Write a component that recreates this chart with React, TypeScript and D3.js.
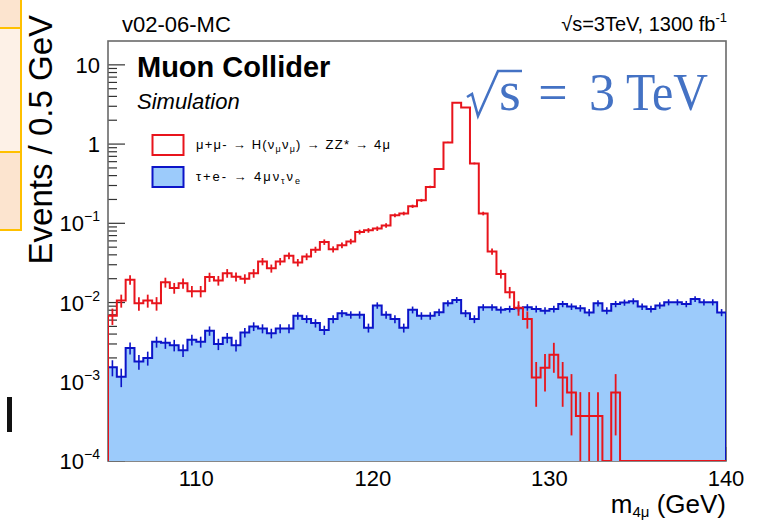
import React from 'react';
import * as d3 from 'd3';

// binning: 70 bins of 0.5 GeV from 105 to 140
const binLow = 105;
const binWidth = 0.5;

// mu+mu- -> H -> ZZ* -> 4mu (red, outline only)
const signalValues = [
  0.0068, 0.0106, 0.0194, 0.0098, 0.0106, 0.0098, 0.018, 0.0153, 0.0175, 0.0139,
  0.0139, 0.021, 0.019, 0.0235, 0.0212, 0.02, 0.0235, 0.033, 0.027, 0.033,
  0.039, 0.032, 0.038, 0.0465, 0.058, 0.047, 0.0527, 0.059, 0.0776, 0.0815,
  0.0857, 0.094, 0.126, 0.133, 0.164, 0.195, 0.288, 0.483, 1.05, 3.33,
  2.9, 0.57, 0.133, 0.044, 0.023, 0.0135, 0.0086, 0.0062, 0.00113, 0.0015,
  0.0022, 0.00113, 0.00073, 0.00037, 0.00037, 0.00037, 0, 0.00073, 0, 0,
  0, 0, 0, 0, 0, 0, 0, 0, 0, 0,
];

// tau+e- -> 4mu nu nu (blue, filled)
const backgroundValues = [
  0.00152, 0.00116, 0.00267, 0.0018, 0.002, 0.0032, 0.0031, 0.0029, 0.0025, 0.0034,
  0.0032, 0.0044, 0.003, 0.0036, 0.0029, 0.0042, 0.005, 0.0047, 0.0041, 0.0047,
  0.0047, 0.0068, 0.0062, 0.0055, 0.0045, 0.0062, 0.0073, 0.007, 0.007, 0.0048,
  0.0092, 0.007, 0.0062, 0.0048, 0.0081, 0.0068, 0.0068, 0.00755, 0.0098, 0.0108,
  0.0073, 0.0062, 0.0087, 0.0087, 0.0081, 0.0083, 0.0085, 0.0087, 0.0083, 0.0079,
  0.0083, 0.0096, 0.0089, 0.0085, 0.0075, 0.0098, 0.0079, 0.0096, 0.01, 0.0104,
  0.0089, 0.0083, 0.0092, 0.0101, 0.0101, 0.0096, 0.0111, 0.0101, 0.0101, 0.0075,
];

// per-event weights, used for the sqrt(N) error bars
const signalWeight = 0.00037;
const backgroundWeight = 0.00008;

const xTickValues = [110, 120, 130, 140];
const xMinorTicks = d3.range(106, 140, 1);
const yDecadeExponents = [-4, -3, -2, -1, 0, 1];

const W = 762;
const H = 521;
const margin = { top: 41, right: 36, bottom: 60, left: 108 };
const FONT = '"Liberation Sans", Arial, Helvetica, sans-serif';

const RED = '#e8141c';
const BLUE = '#0c14c8';
const FILL = '#9ccbfb';

export default function App() {
  const x = d3.scaleLinear().domain([105, 140]).range([margin.left, W - margin.right]);
  const y = d3.scaleLog().domain([1e-4, 20]).range([H - margin.bottom, margin.top]);
  const bottom = y(1e-4);
  const yMin = 1e-4;

  const binY = (v: number) => (v > 0 ? y(Math.max(v, yMin)) : bottom);

  const stepPoints = (vals: number[]) => {
    const pts: [number, number][] = [[x(binLow), bottom]];
    vals.forEach((v, i) => {
      const lo = binLow + i * binWidth;
      pts.push([x(lo), binY(v)], [x(lo + binWidth), binY(v)]);
    });
    pts.push([x(binLow + vals.length * binWidth), bottom]);
    return pts;
  };

  const line = d3.line();
  const area = d3.area<[number, number]>().x(d => d[0]).y0(bottom).y1(d => d[1]);

  const errBars = (vals: number[], w: number) =>
    vals
      .map((v, i) => {
        if (v <= 0) return null;
        const e = Math.sqrt(v * w);
        const cx = x(binLow + (i + 0.5) * binWidth);
        const lo = v - e > yMin ? y(v - e) : bottom;
        return { cx, y1: lo, y2: y(v + e) };
      })
      .filter(Boolean) as { cx: number; y1: number; y2: number }[];

  const minorY: number[] = [];
  yDecadeExponents.forEach(e => {
    for (let k = 2; k <= 9; k++) {
      const v = k * Math.pow(10, e);
      if (v < 20) minorY.push(v);
    }
  });

  const bgPts = stepPoints(backgroundValues);
  const sigPts = stepPoints(signalValues);

  return (
    <svg width={W} height={H} style={{ position: 'absolute', left: 0, top: 0, background: '#fff' }}
      fontFamily={FONT}>
      <defs>
        <clipPath id="plot">
          <rect x={margin.left} y={margin.top} width={W - margin.left - margin.right}
            height={bottom - margin.top} />
        </clipPath>
      </defs>

      {/* slide leftovers */}
      <g stroke="#ffc000" strokeWidth={2}>
        <rect x={-5} y={-5} width={26} height={33} fill="#fce4cf" />
        <rect x={-5} y={28} width={26} height={124} fill="#fdf1e7" />
        <rect x={-5} y={152} width={26} height={78} fill="#fce4cf" />
      </g>
      <rect x={7} y={397} width={5} height={35} fill="#111" />

      {/* y ticks (drawn under the histograms like ROOT) */}
      <g stroke="#333" strokeWidth={1.2}>
        {yDecadeExponents.map(e => (
          <line key={e} x1={margin.left} x2={margin.left + 17} y1={y(Math.pow(10, e))} y2={y(Math.pow(10, e))} />
        ))}
        {minorY.map(v => (
          <line key={v} x1={margin.left} x2={margin.left + 9} y1={y(v)} y2={y(v)} />
        ))}
        {xTickValues.map(v => (
          <line key={v} x1={x(v)} x2={x(v)} y1={bottom} y2={bottom - 14} />
        ))}
        {xMinorTicks.map(v => (
          <line key={'m' + v} x1={x(v)} x2={x(v)} y1={bottom} y2={bottom - 7} />
        ))}
      </g>

      {/* frame */}
      <rect x={margin.left} y={margin.top} width={W - margin.left - margin.right}
        height={bottom - margin.top} fill="none" stroke="#6a6a6a" strokeWidth={1.6} />

      <g clipPath="url(#plot)">
        {/* background histogram */}
        <path d={area(bgPts) || ''} fill={FILL} />
        <path d={line(bgPts) || ''} fill="none" stroke={BLUE} strokeWidth={2} />
        {errBars(backgroundValues, backgroundWeight).map((b, i) => (
          <line key={i} x1={b.cx} x2={b.cx} y1={b.y1} y2={b.y2} stroke={BLUE} strokeWidth={1.6} />
        ))}
        {/* signal histogram */}
        <path d={line(sigPts) || ''} fill="none" stroke={RED} strokeWidth={2} />
        {errBars(signalValues, signalWeight).map((b, i) => (
          <line key={i} x1={b.cx} x2={b.cx} y1={b.y1} y2={b.y2} stroke={RED} strokeWidth={1.8} />
        ))}
      </g>

      {/* y tick labels */}
      <g fontSize={22} fill="#000" textAnchor="end">
        {yDecadeExponents.map(e => (
          <text key={e} x={100} y={y(Math.pow(10, e)) + 8}>
            {e === 0 ? '1' : e === 1 ? '10' : (
              <>10<tspan fontSize={14} dy={-10}>{'\u2212' + Math.abs(e)}</tspan></>
            )}
          </text>
        ))}
      </g>

      {/* x tick labels */}
      <g fontSize={22} fill="#000" textAnchor="middle">
        {xTickValues.map(v => (
          <text key={v} x={x(v)} y={486}>{v}</text>
        ))}
      </g>

      {/* axis titles */}
      <text transform="translate(52,15) rotate(-90)" textAnchor="end" fontSize={33}>Events / 0.5 GeV</text>
      <text x={726} y={513} textAnchor="end" fontSize={26}>
        m<tspan fontSize={15} dy={4}>4μ</tspan><tspan dy={-4}> (GeV)</tspan>
      </text>

      {/* header texts */}
      <text x={122} y={32} fontSize={22}>v02-06-MC</text>
      <text x={727} y={31} fontSize={20} textAnchor="end">
        √s=3TeV, 1300 fb<tspan fontSize={13} dy={-9}>-1</tspan>
      </text>
      <text x={137} y={77} fontSize={29} fontWeight="bold">Muon Collider</text>
      <text x={137} y={109} fontSize={22} fontStyle="italic">Simulation</text>

      {/* legend */}
      <rect x={152.5} y={135} width={31} height={20} fill="#fff" stroke={RED} strokeWidth={2} />
      <rect x={152.5} y={167} width={31} height={20} fill={FILL} stroke={BLUE} strokeWidth={2} />
      <g fontSize={13} fill="#000">
        <text x={196} y={149} textLength={194} lengthAdjust="spacing">
          μ+μ- → H(ν<tspan fontSize={9} dy={3}>μ</tspan><tspan dy={-3}>ν</tspan><tspan fontSize={9} dy={3}>μ</tspan><tspan dy={-3}>) → ZZ* → 4μ</tspan>
        </text>
        <text x={196} y={181} textLength={104} lengthAdjust="spacing">
          τ+e- → 4μν<tspan fontSize={9} dy={3}>τ</tspan><tspan dy={-3}>ν</tspan><tspan fontSize={9} dy={3}>e</tspan>
        </text>
      </g>

      {/* slide annotation */}
      <g fill="#4472c4" fontFamily='"Liberation Serif", "DejaVu Serif", serif' fontSize={52}>
        <path d="M467,97 L472,94 L478,116 L498,71 L522,71" fill="none" stroke="#4472c4" strokeWidth={2.6}
          strokeLinejoin="miter" />
        <text x={499} y={110} fontSize={56}>s</text>
        <text x={553} y={110} textAnchor="middle">=</text>
        <text x={589} y={110}>3</text>
        <text x={626} y={110} textLength={82} lengthAdjust="spacingAndGlyphs">TeV</text>
      </g>
    </svg>
  );
}
